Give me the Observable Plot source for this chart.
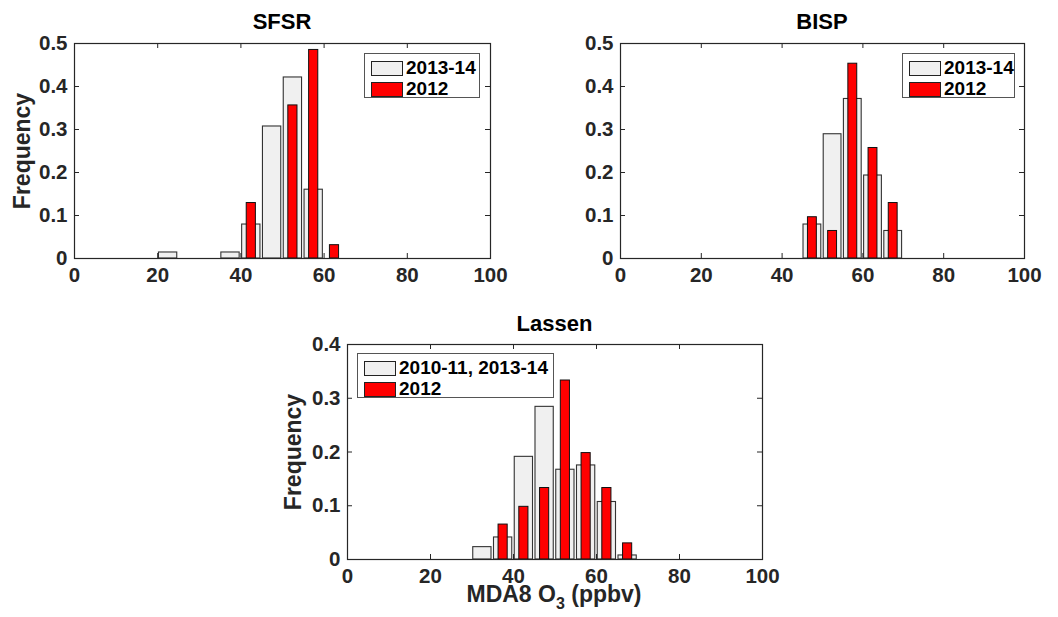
<!DOCTYPE html>
<html><head><meta charset="utf-8">
<script src="https://cdn.jsdelivr.net/npm/d3@7"></script>
<script src="https://cdn.jsdelivr.net/npm/@observablehq/plot@0.6"></script>
<style>
html,body{margin:0;padding:0;background:#fff;}
#root{position:relative;width:1058px;height:617px;overflow:hidden;font-family:"Liberation Sans",Arial,sans-serif;font-weight:bold;}
.abs{position:absolute;}
.title{font-size:22px;line-height:25px;color:#000;text-align:center;white-space:nowrap;}
.ylab{font-size:23px;color:#262626;white-space:nowrap;transform:translate(-50%,-50%) rotate(-90deg);}
.xlab{font-size:23px;line-height:17px;color:#262626;white-space:nowrap;transform:translateX(-50%);}
.legend{border:1px solid #555;background:#fff;box-sizing:border-box;}
.lrow{position:absolute;display:flex;align-items:center;font-size:19px;color:#000;white-space:nowrap;}
.sw{width:32px;height:15px;border:1px solid #222;box-sizing:border-box;margin-right:3px;}
svg text{font-family:"Liberation Sans",Arial,sans-serif;font-weight:bold;}
</style></head>
<body><div id="root"></div>
<script>
// ---- data ----
const xTicks = [0, 20, 40, 60, 80, 100];
const yTicksTop = [0, 0.1, 0.2, 0.3, 0.4, 0.5];
const yTicksBottom = [0, 0.1, 0.2, 0.3, 0.4];

const sfsrGrayX = [22.5, 37.5, 42.5, 47.5, 52.5, 57.5];
const sfsrGrayY = [0.014, 0.014, 0.079, 0.307, 0.421, 0.160];
const sfsrRedX = [42.5, 52.5, 57.5, 62.5];
const sfsrRedY = [0.129, 0.356, 0.485, 0.031];

const bispGrayX = [47.5, 52.5, 57.5, 62.5, 67.5];
const bispGrayY = [0.079, 0.289, 0.371, 0.193, 0.064];
const bispRedX = [47.5, 52.5, 57.5, 62.5, 67.5];
const bispRedY = [0.096, 0.064, 0.453, 0.257, 0.129];

const lassenGrayX = [32.5, 37.5, 42.5, 47.5, 52.5, 57.5, 62.5, 67.5];
const lassenGrayY = [0.023, 0.041, 0.191, 0.284, 0.167, 0.175, 0.107, 0.0075];
const lassenRedX = [37.5, 42.5, 47.5, 52.5, 57.5, 62.5, 67.5];
const lassenRedY = [0.065, 0.098, 0.133, 0.333, 0.198, 0.133, 0.030];

const titles = ["SFSR", "BISP", "Lassen"];
const legendTop = ["2013-14", "2012"];
const legendBottom = ["2010-11, 2013-14", "2012"];
const yLabel = "Frequency";

// ---- drawing ----
const root = document.getElementById("root");
const ink = "#262626";

function panel(opt) {
  const gray = opt.grayX.map((x, i) => ({x, y: opt.grayY[i]}));
  const red = opt.redX.map((x, i) => ({x, y: opt.redY[i]}));
  const yMax = opt.yTicks[opt.yTicks.length - 1];
  const plotW = opt.width - opt.ml - opt.mr;
  const plotH = opt.height - opt.mt - opt.mb;
  const tx = 100 / plotW * 5, ty = yMax / plotH * 5;
  const chart = Plot.plot({
    width: opt.width, height: opt.height,
    marginLeft: opt.ml, marginRight: opt.mr, marginTop: opt.mt, marginBottom: opt.mb,
    style: {fontSize: "20px", color: ink, background: "transparent", overflow: "visible"},
    x: {domain: [0, 100]},
    y: {domain: [0, yMax]},
    marks: [
      Plot.rectY(gray, {x1: d => d.x - 2.2, x2: d => d.x + 2.2, y1: 0, y2: "y", fill: "#f0f0f0", stroke: "#333", strokeWidth: 1.1}),
      Plot.rectY(red, {x1: d => d.x - 1.1, x2: d => d.x + 1.1, y1: 0, y2: "y", fill: "#ff0000", stroke: "#111", strokeWidth: 1}),
      Plot.ruleX(xTicks, {x: d => d, y1: 0, y2: ty, stroke: ink}),
      Plot.ruleX(xTicks, {x: d => d, y1: yMax, y2: yMax - ty, stroke: ink}),
      Plot.ruleY(opt.yTicks, {y: d => d, x1: 0, x2: tx, stroke: ink}),
      Plot.ruleY(opt.yTicks, {y: d => d, x1: 100, x2: 100 - tx, stroke: ink}),
      Plot.frame({stroke: ink, strokeWidth: 1.2}),
      Plot.axisX(xTicks, {tickSize: 0, tickPadding: 9, label: null, fill: ink, fontSize: 20.5}),
      Plot.axisY(opt.yTicks, {tickSize: 0, tickPadding: 7, label: null, fill: ink, fontSize: 20.5, tickFormat: d => d === 0 ? "0" : String(d)})
    ]
  });
  chart.style.position = "absolute";
  chart.style.left = opt.left + "px";
  chart.style.top = opt.top + "px";
  root.appendChild(chart);

  const t = document.createElement("div");
  t.className = "abs title";
  t.textContent = opt.title;
  t.style.left = (opt.left + opt.ml) + "px";
  t.style.width = plotW + "px";
  t.style.top = (opt.top + opt.mt - opt.tOff) + "px";
  root.appendChild(t);

  if (opt.ylabel) {
    const yl = document.createElement("div");
    yl.className = "abs ylab";
    yl.textContent = opt.ylabel;
    yl.style.left = opt.ylx + "px";
    yl.style.top = (opt.top + opt.mt + plotH / 2) + "px";
    root.appendChild(yl);
  }

  const lg = document.createElement("div");
  lg.className = "abs legend";
  lg.style.left = opt.lg.x + "px"; lg.style.top = opt.lg.y + "px";
  lg.style.width = opt.lg.w + "px"; lg.style.height = "45px";
  opt.legend.forEach((name, i) => {
    const row = document.createElement("div");
    row.className = "lrow";
    row.style.left = "6px";
    row.style.top = (3 + i * 21) + "px";
    const sw = document.createElement("div");
    sw.className = "sw";
    sw.style.background = i === 0 ? "#f0f0f0" : "#ff0000";
    row.appendChild(sw);
    const s = document.createElement("span");
    s.textContent = name;
    row.appendChild(s);
    lg.appendChild(row);
  });
  root.appendChild(lg);
}

panel({left: 0, top: 0, width: 520, height: 290, ml: 74, mr: 30, mt: 43, mb: 32, tOff: 34,
  yTicks: yTicksTop, grayX: sfsrGrayX, grayY: sfsrGrayY, redX: sfsrRedX, redY: sfsrRedY,
  title: titles[0], ylabel: yLabel, ylx: 22, legend: legendTop, lg: {x: 364, y: 53, w: 116}});
panel({left: 540, top: 0, width: 518, height: 290, ml: 80, mr: 34, mt: 43, mb: 32, tOff: 34,
  yTicks: yTicksTop, grayX: bispGrayX, grayY: bispGrayY, redX: bispRedX, redY: bispRedY,
  title: titles[1], ylabel: null, legend: legendTop, lg: {x: 902, y: 53, w: 113}});
panel({left: 270, top: 300, width: 520, height: 290, ml: 77, mr: 28, mt: 44, mb: 31, tOff: 33,
  yTicks: yTicksBottom, grayX: lassenGrayX, grayY: lassenGrayY, redX: lassenRedX, redY: lassenRedY,
  title: titles[2], ylabel: yLabel, ylx: 293, legend: legendBottom, lg: {x: 357, y: 353, w: 197}});

const xl = document.createElement("div");
xl.className = "abs xlab";
xl.innerHTML = "MDA8 O<span style='font-size:16px;position:relative;top:7px'>3</span> (ppbv)";
xl.style.left = "554px";
xl.style.top = "586px";
root.appendChild(xl);
</script>
</body></html>
